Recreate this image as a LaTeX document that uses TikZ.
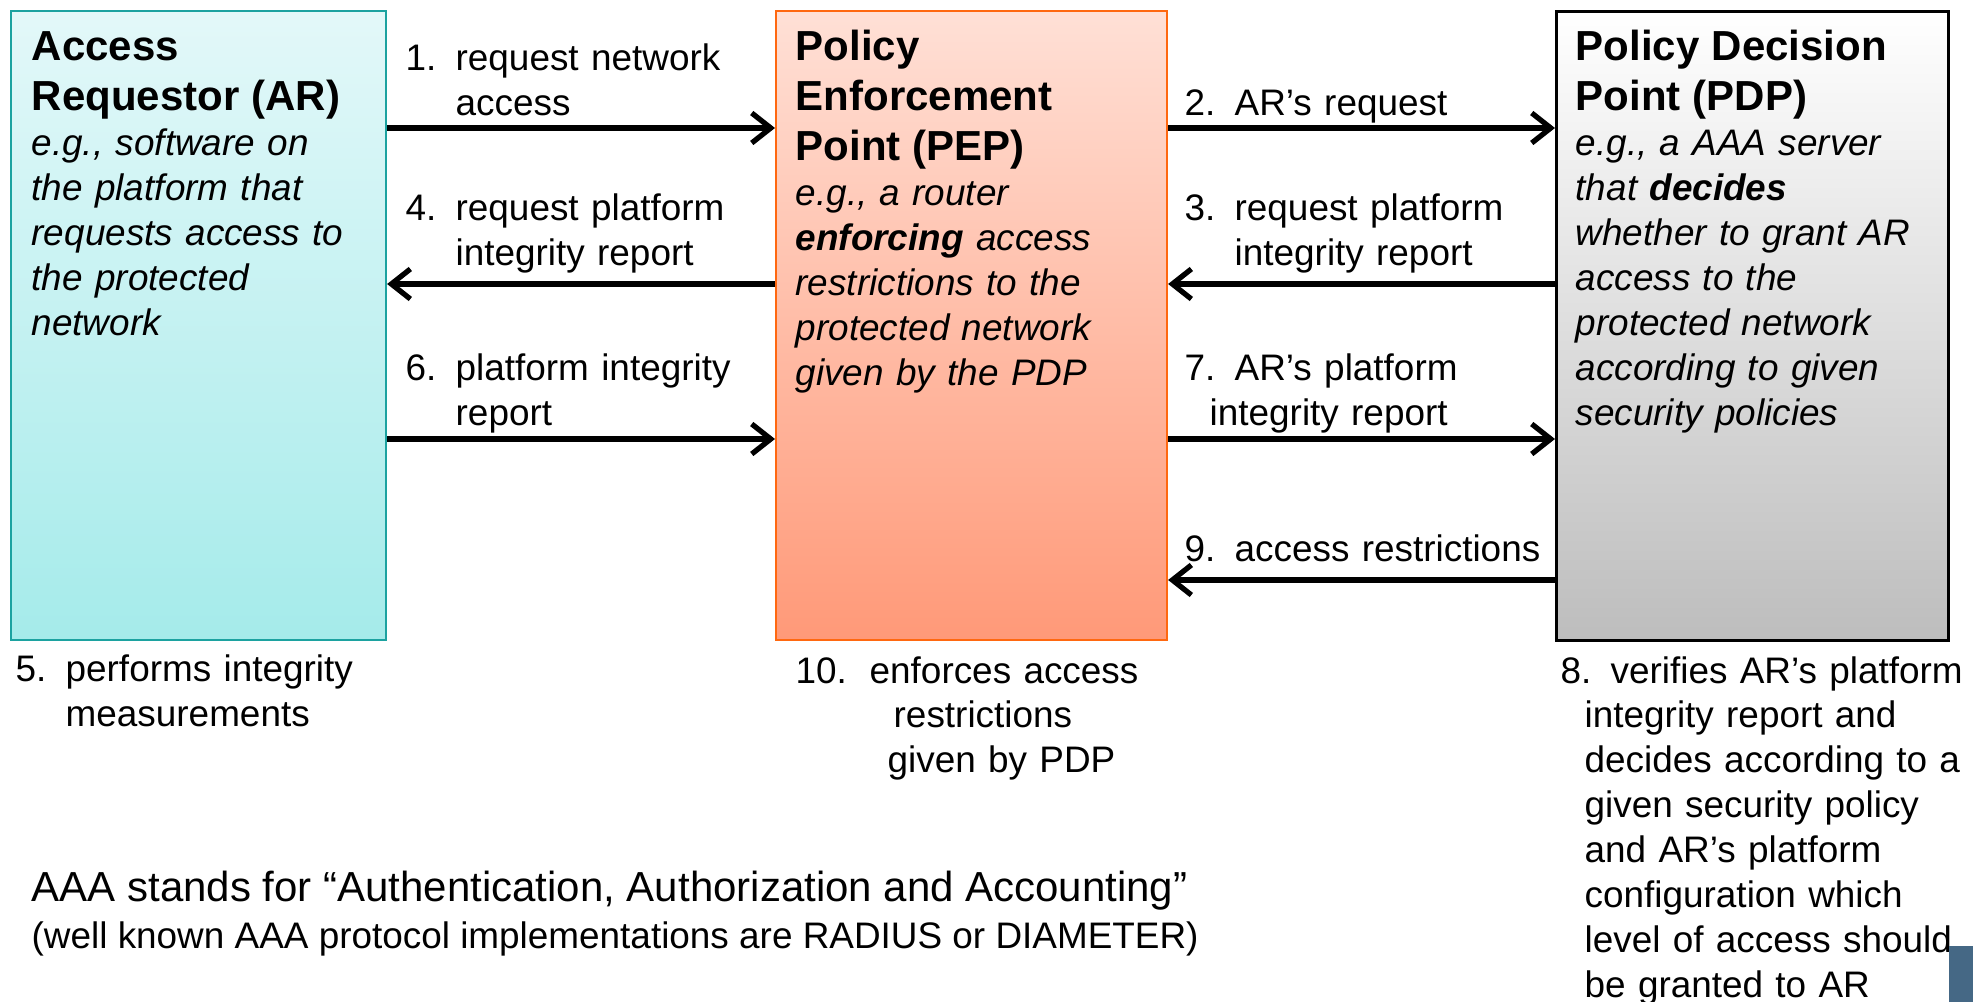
\documentclass[tikz,border=0pt]{standalone}
\usepackage{fontspec}
\setmainfont{Liberation Sans}
\usepackage{tikz}
\usetikzlibrary{arrows.meta}
\definecolor{arline}{RGB}{28,162,160}
\definecolor{artop}{RGB}{227,248,249}
\definecolor{arbot}{RGB}{165,235,234}
\definecolor{pepline}{RGB}{255,104,16}
\definecolor{peptop}{RGB}{255,224,214}
\definecolor{pepbot}{RGB}{255,153,120}
\definecolor{pdpbot}{RGB}{189,189,189}
\definecolor{cornerblue}{RGB}{69,104,133}
\tikzset{box/.style = {draw, line width = 0.6pt, anchor = north west, inner sep = 0, minimum height = 6.29cm}}
\tikzset{boxtext/.style = {anchor = base west, inner sep = 0, text width = 3.6cm, align = left,
                           font = \fontsize{10.5}{12.8}\selectfont}}
\tikzset{lbl/.style = {anchor = base west, inner sep = 0, text width = 5cm, align = left,
                       font = \fontsize{10.5}{12.8}\selectfont}}
\tikzset{arr/.style = {-{Straight Barb[length = 1.9mm, width = 3mm]}, line width = 1.5pt}}
\newcommand{\ttl}[1]{{\fontsize{11.95}{14.2}\selectfont\bfseries #1\par}}
\newcommand{\nr}[1]{\makebox[0.5cm][l]{#1}}

\begin{document}
\begin{tikzpicture}
      \useasboundingbox (0, 0) rectangle (19.73, -10.02);

      \node [box, minimum width = 3.75cm, draw = arline, top color = artop, bottom color = arbot] (ar) at (0.10, -0.10) {};
      \node [box, minimum width = 3.91cm, draw = pepline, top color = peptop, bottom color = pepbot] (pep) at (7.75, -0.10) {};
      \node [box, minimum width = 3.92cm, line width = 0.9pt, top color = white, bottom color = pdpbot] (pdp) at (15.55, -0.10) {};

      \node [boxtext] (artxt) at (0.31, -0.61) {\ttl{Access\\Requestor (AR)}\itshape e.g., software on\\the platform that\\requests access to\\the protected\\network};
      \node [boxtext] (peptxt) at (7.95, -0.61) {\ttl{Policy\\Enforcement\\Point (PEP)}\itshape e.g., a router\\\textbf{enforcing} access\\restrictions to the\\protected network\\given by the PDP};
      \node [boxtext] (pdptxt) at (15.75, -0.61) {\ttl{Policy Decision\\Point (PDP)}\itshape e.g., a AAA server\\that \textbf{decides}\\whether to grant AR\\access to the\\protected network\\according to given\\security policies};

      \draw [arr] (ar.east |- 0, -1.28) -- (pep.west |- 0, -1.28);
      \draw [arr] (pep.east |- 0, -1.28) -- (pdp.west |- 0, -1.28);
      \draw [arr] (pdp.west |- 0, -2.84) -- (pep.east |- 0, -2.84);
      \draw [arr] (pep.west |- 0, -2.84) -- (ar.east |- 0, -2.84);
      \draw [arr] (ar.east |- 0, -4.39) -- (pep.west |- 0, -4.39);
      \draw [arr] (pep.east |- 0, -4.39) -- (pdp.west |- 0, -4.39);
      \draw [arr] (pdp.west |- 0, -5.80) -- (pep.east |- 0, -5.80);

      \node [lbl] (l1) at (4.05, -0.71) {\nr{1.}request network\\\hspace*{0.5cm}access};
      \node [lbl] (l4) at (4.05, -2.21) {\nr{4.}request platform\\\hspace*{0.5cm}integrity report};
      \node [lbl] (l6) at (4.05, -3.81) {\nr{6.}platform integrity\\\hspace*{0.5cm}report};
      \node [lbl] (l2) at (11.84, -1.16) {\nr{2.}AR’s request};
      \node [lbl] (l3) at (11.84, -2.21) {\nr{3.}request platform\\\hspace*{0.5cm}integrity report};
      \node [lbl] (l7) at (11.84, -3.81) {\nr{7.}AR’s platform\\\hspace*{0.25cm}integrity report};
      \node [lbl] (l9) at (11.84, -5.62) {\nr{9.}access restrictions};

      \node [lbl] (l5) at (0.15, -6.82) {\nr{5.}performs integrity\\\hspace*{0.5cm}measurements};
      \node [lbl] (l10) at (7.95, -6.83) {\makebox[0.74cm][l]{10.}enforces access\\\hspace*{0.98cm}restrictions\\\hspace*{0.92cm}given by PDP};
      \node [lbl] (l8) at (15.60, -6.83) {\nr{8.}verifies AR’s platform\\\hspace*{0.24cm}integrity report and\\\hspace*{0.24cm}decides according to a\\\hspace*{0.24cm}given security policy\\\hspace*{0.24cm}and AR’s platform\\\hspace*{0.24cm}configuration which\\\hspace*{0.24cm}level of access should\\\hspace*{0.24cm}be granted to AR};

      \node [anchor = base west, inner sep = 0, font = \fontsize{11.95}{14}\selectfont] (aaa) at (0.31, -9.02) {AAA stands for “Authentication, Authorization and Accounting”};
      \node [anchor = base west, inner sep = 0, font = \fontsize{10.5}{12.8}\selectfont] (aaanote) at (0.31, -9.48) {(well known AAA protocol implementations are RADIUS or DIAMETER)};

      \fill [cornerblue] (19.49, -9.46) rectangle (19.73, -10.02);
    \end{tikzpicture}
\end{document}
